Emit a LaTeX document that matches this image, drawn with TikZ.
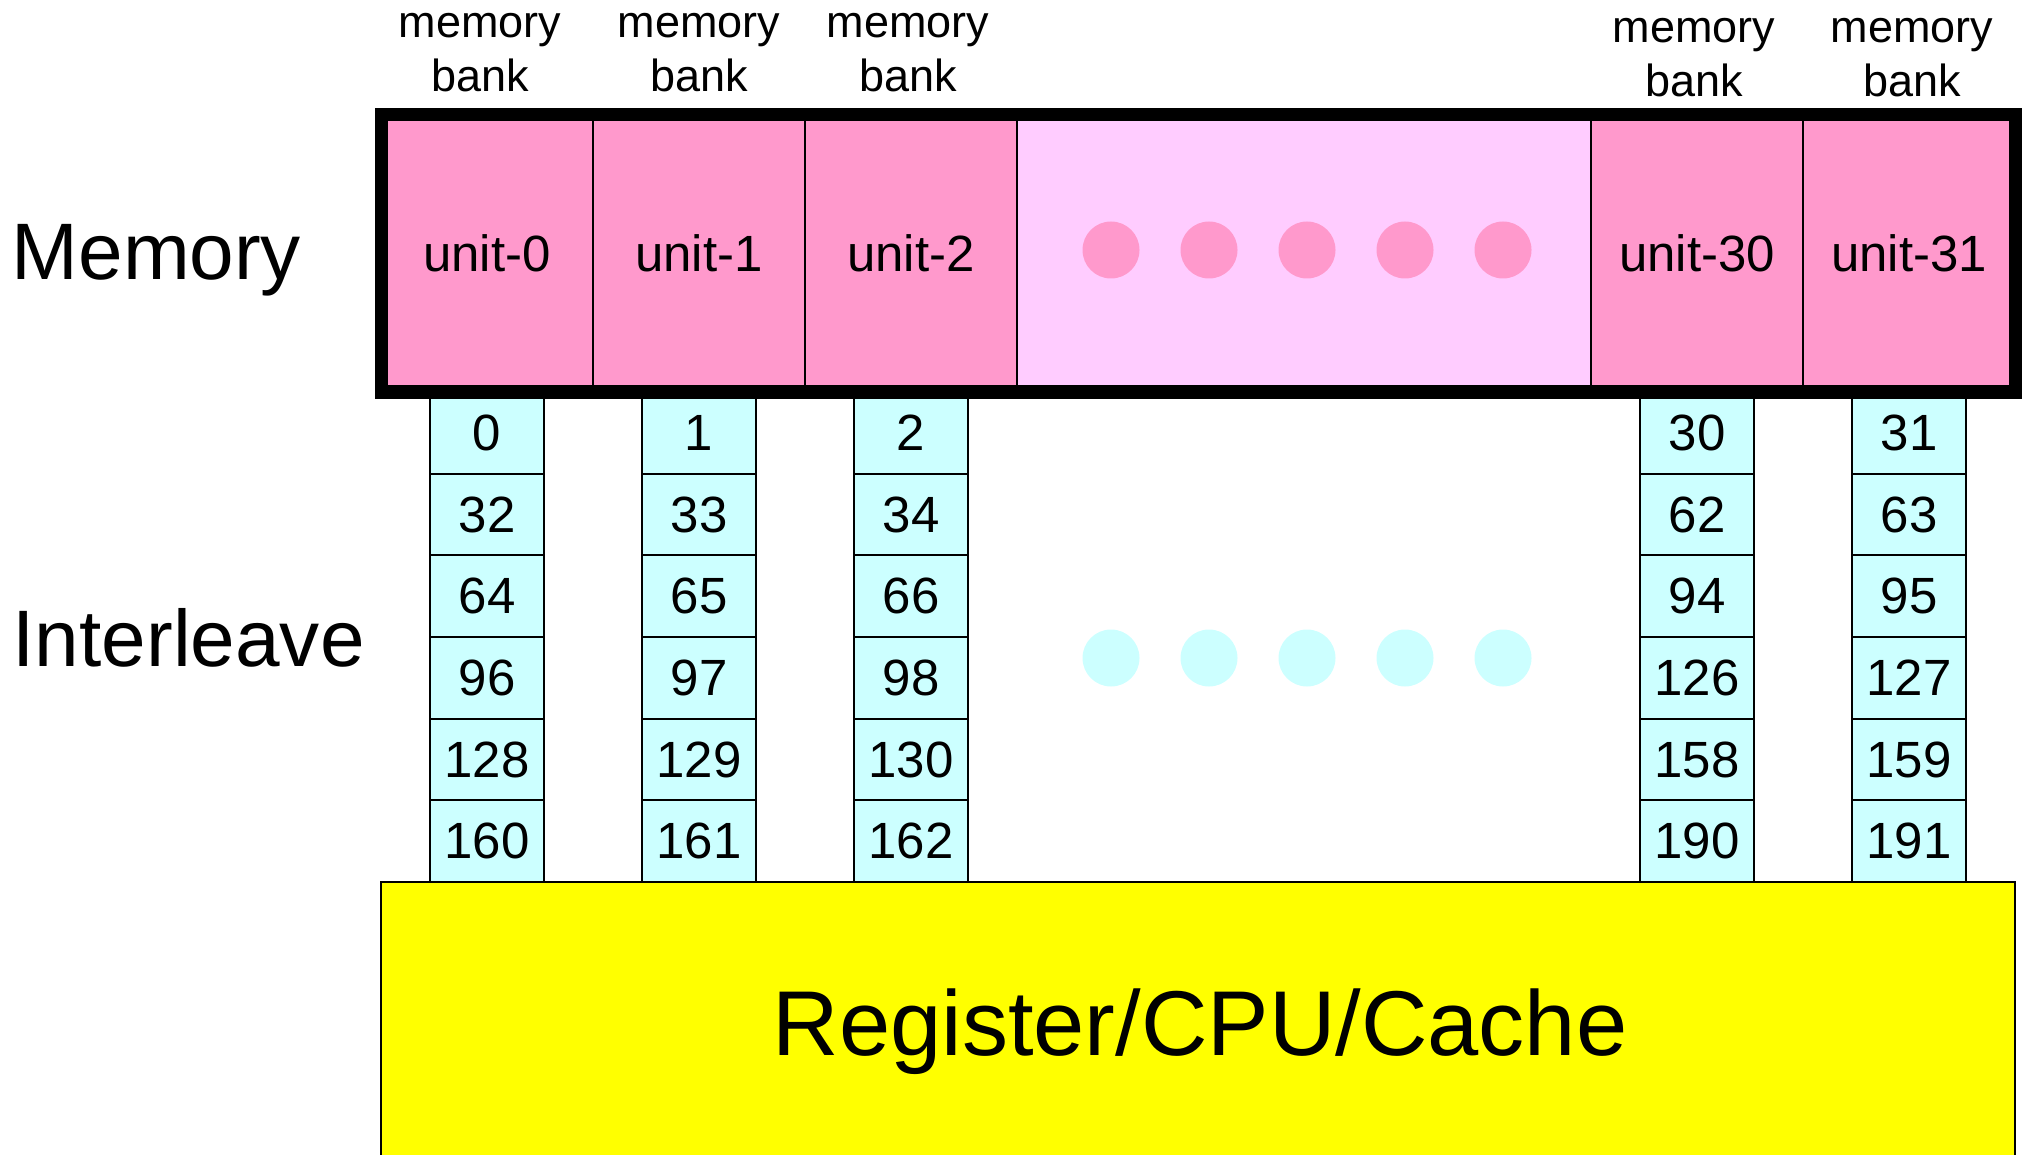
\documentclass[tikz,border=0pt]{standalone}
\usepackage{fontspec}
\setmainfont{Liberation Sans}
\definecolor{unitpink}{HTML}{FF99CC}
\definecolor{gappink}{HTML}{FFCCFF}
\definecolor{numcyan}{HTML}{CCFFFF}
\definecolor{cpuyellow}{HTML}{FFFF00}
\begin{document}
\begin{tikzpicture}[
	unitcell/.style={draw=black, line width=0.6pt, fill=unitpink, minimum width=2.12cm, minimum height=2.77cm, inner sep=0pt, font=\fontsize{14.5}{17}\selectfont},
	numcell/.style={draw=black, line width=0.6pt, fill=numcyan, minimum width=1.14cm, minimum height=0.8167cm, inner sep=0pt, font=\fontsize{14.5}{17}\selectfont},
	banklabel/.style={align=center, inner sep=0pt, anchor=base, font=\fontsize{12.8}{15.4}\selectfont},
	bigtext/.style={inner sep=0pt, anchor=base west, font=\fontsize{22.8}{27}\selectfont}]
	\useasboundingbox (0,0) rectangle (20.24,-11.55);
	% memory units
	\node[unitcell] (u0) at (4.87,-2.535) {unit-0};
	\node[unitcell] (u1) at (6.99,-2.535) {unit-1};
	\node[unitcell] (u2) at (9.11,-2.535) {unit-2};
	\node[unitcell, fill=gappink, minimum width=5.74cm] (gap) at (13.04,-2.535) {};
	\node[unitcell] (u30) at (16.97,-2.535) {unit-30};
	\node[unitcell] (u31) at (19.09,-2.535) {unit-31};
	\fill[unitpink] (11.11,-2.50) circle (0.285);
	\fill[unitpink] (12.09,-2.50) circle (0.285);
	\fill[unitpink] (13.07,-2.50) circle (0.285);
	\fill[unitpink] (14.05,-2.50) circle (0.285);
	\fill[unitpink] (15.03,-2.50) circle (0.285);
	% interleaved addresses
	\node[numcell] (n0) at (4.87,-4.33) {0};
	\node[numcell] (n32) at (4.87,-5.145) {32};
	\node[numcell] (n64) at (4.87,-5.96) {64};
	\node[numcell] (n96) at (4.87,-6.78) {96};
	\node[numcell] (n128) at (4.87,-7.595) {128};
	\node[numcell] (n160) at (4.87,-8.41) {160};
	\node[numcell] (n1) at (6.99,-4.33) {1};
	\node[numcell] (n33) at (6.99,-5.145) {33};
	\node[numcell] (n65) at (6.99,-5.96) {65};
	\node[numcell] (n97) at (6.99,-6.78) {97};
	\node[numcell] (n129) at (6.99,-7.595) {129};
	\node[numcell] (n161) at (6.99,-8.41) {161};
	\node[numcell] (n2) at (9.11,-4.33) {2};
	\node[numcell] (n34) at (9.11,-5.145) {34};
	\node[numcell] (n66) at (9.11,-5.96) {66};
	\node[numcell] (n98) at (9.11,-6.78) {98};
	\node[numcell] (n130) at (9.11,-7.595) {130};
	\node[numcell] (n162) at (9.11,-8.41) {162};
	\node[numcell] (n30) at (16.97,-4.33) {30};
	\node[numcell] (n62) at (16.97,-5.145) {62};
	\node[numcell] (n94) at (16.97,-5.96) {94};
	\node[numcell] (n126) at (16.97,-6.78) {126};
	\node[numcell] (n158) at (16.97,-7.595) {158};
	\node[numcell] (n190) at (16.97,-8.41) {190};
	\node[numcell] (n31) at (19.09,-4.33) {31};
	\node[numcell] (n63) at (19.09,-5.145) {63};
	\node[numcell] (n95) at (19.09,-5.96) {95};
	\node[numcell] (n127) at (19.09,-6.78) {127};
	\node[numcell] (n159) at (19.09,-7.595) {159};
	\node[numcell] (n191) at (19.09,-8.41) {191};
	\fill[numcyan] (11.11,-6.58) circle (0.285);
	\fill[numcyan] (12.09,-6.58) circle (0.285);
	\fill[numcyan] (13.07,-6.58) circle (0.285);
	\fill[numcyan] (14.05,-6.58) circle (0.285);
	\fill[numcyan] (15.03,-6.58) circle (0.285);
	% frame round the memory
	\node[draw=black, line width=3.7pt, minimum width=16.34cm, minimum height=2.77cm, inner sep=0pt] (mem) at (11.98,-2.535) {};
	% cpu side
	\node[draw=black, line width=0.6pt, fill=cpuyellow, minimum width=16.34cm, minimum height=2.88cm, inner sep=0pt] (cpu) at (11.98,-10.26) {};
	\node[inner sep=0pt, anchor=base, font=\fontsize{26.2}{31}\selectfont] (cputxt) at (12.00,-10.55) {Register/CPU/Cache};
	% labels
	\node[banklabel] (lb0) at (4.80,-0.92) {memory\\bank};
	\node[banklabel] (lb1) at (6.99,-0.92) {memory\\bank};
	\node[banklabel] (lb2) at (9.08,-0.92) {memory\\bank};
	\node[banklabel] (lb30) at (16.94,-0.97) {memory\\bank};
	\node[banklabel] (lb31) at (19.12,-0.97) {memory\\bank};
	\node[bigtext] (memtxt) at (0.11,-2.80) {Memory};
	\node[bigtext] (iltxt) at (0.12,-6.66) {Interleave};
\end{tikzpicture}
\end{document}
